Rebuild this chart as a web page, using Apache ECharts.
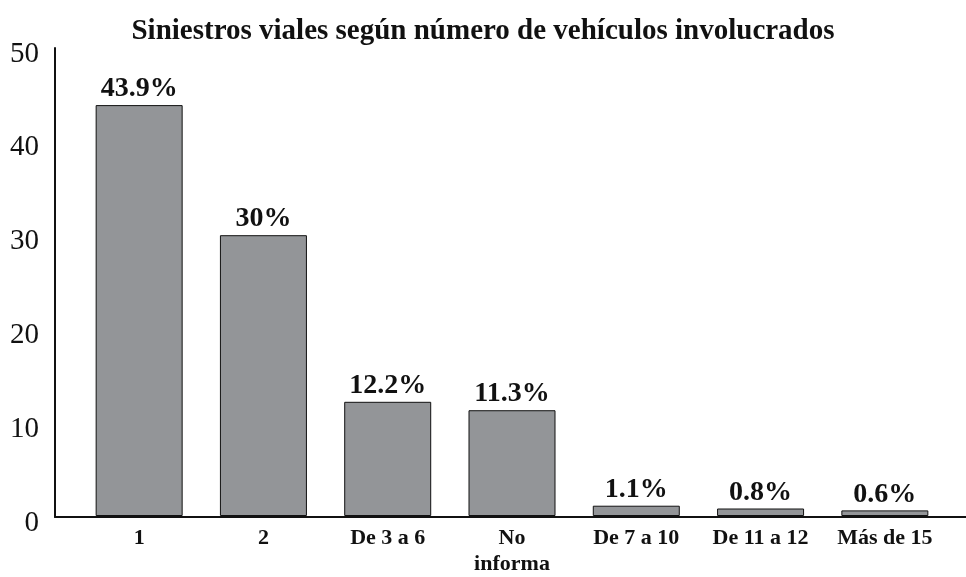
<!DOCTYPE html>
<html>
<head>
<meta charset="utf-8">
<script src="https://cdn.jsdelivr.net/npm/echarts@6/dist/echarts.min.js"></script>
<style>
  html, body { margin: 0; padding: 0; background: #fff; }
  #chart { width: 966px; height: 577px; }
</style>
</head>
<body>
<div id="chart"></div>
<script>
// datos del gráfico
const categorias = ['1', '2', 'De 3 a 6', 'No\ninforma', 'De 7 a 10', 'De 11 a 12', 'Más de 15']
const porcentajes = [43.9, 30, 12.2, 11.3, 1.1, 0.8, 0.6]
const etiquetas = ['43.9%', '30%', '12.2%', '11.3%', '1.1%', '0.8%', '0.6%']
const titulo = 'Siniestros viales según número de vehículos involucrados'

const serif = '"Liberation Serif", "DejaVu Serif", serif'

const chart = echarts.init(document.getElementById('chart'))

chart.setOption({
  animation: false,
  title: {
    text: titulo,
    left: 'center',
    top: 12,
    textStyle: { fontFamily: serif, fontWeight: 'bold', fontSize: 29, color: '#111' }
  },
  grid: [
    // barras
    { left: 77, right: 19, top: 48, bottom: 60 },
    // ejes (la línea se extiende más allá de las barras)
    { left: 55, right: 0, top: 48, bottom: 60 }
  ],
  xAxis: [
    {
      type: 'category',
      gridIndex: 0,
      data: categorias,
      axisLine: { show: false },
      axisTick: { show: false },
      axisLabel: {
        margin: 9,
        fontFamily: serif,
        fontWeight: 'bold',
        fontSize: 22,
        lineHeight: 26,
        color: '#111',
        interval: 0
      }
    },
    {
      type: 'value',
      gridIndex: 1,
      min: 0,
      max: 1,
      axisLine: { show: true, lineStyle: { color: '#111', width: 2 } },
      axisTick: { show: false },
      axisLabel: { show: false },
      splitLine: { show: false }
    }
  ],
  yAxis: [
    {
      type: 'value',
      gridIndex: 0,
      min: 0,
      max: 50,
      interval: 10,
      show: false
    },
    {
      type: 'value',
      gridIndex: 1,
      min: 0,
      max: 50,
      interval: 10,
      axisLine: { show: true, lineStyle: { color: '#111', width: 2 } },
      axisTick: { show: false },
      splitLine: { show: false },
      axisLabel: {
        margin: 16,
        verticalAlign: 'top',
        lineHeight: 12,
        fontFamily: serif,
        fontSize: 29,
        color: '#111'
      }
    }
  ],
  series: [
    {
      type: 'bar',
      xAxisIndex: 0,
      yAxisIndex: 0,
      data: porcentajes,
      barWidth: '70%',
      itemStyle: { color: '#939598', borderColor: '#111', borderWidth: 1 },
      label: {
        show: true,
        position: 'top',
        distance: 2,
        formatter: (p) => etiquetas[p.dataIndex],
        fontFamily: serif,
        fontWeight: 'bold',
        fontSize: 28,
        color: '#111'
      }
    }
  ]
})
</script>
</body>
</html>
